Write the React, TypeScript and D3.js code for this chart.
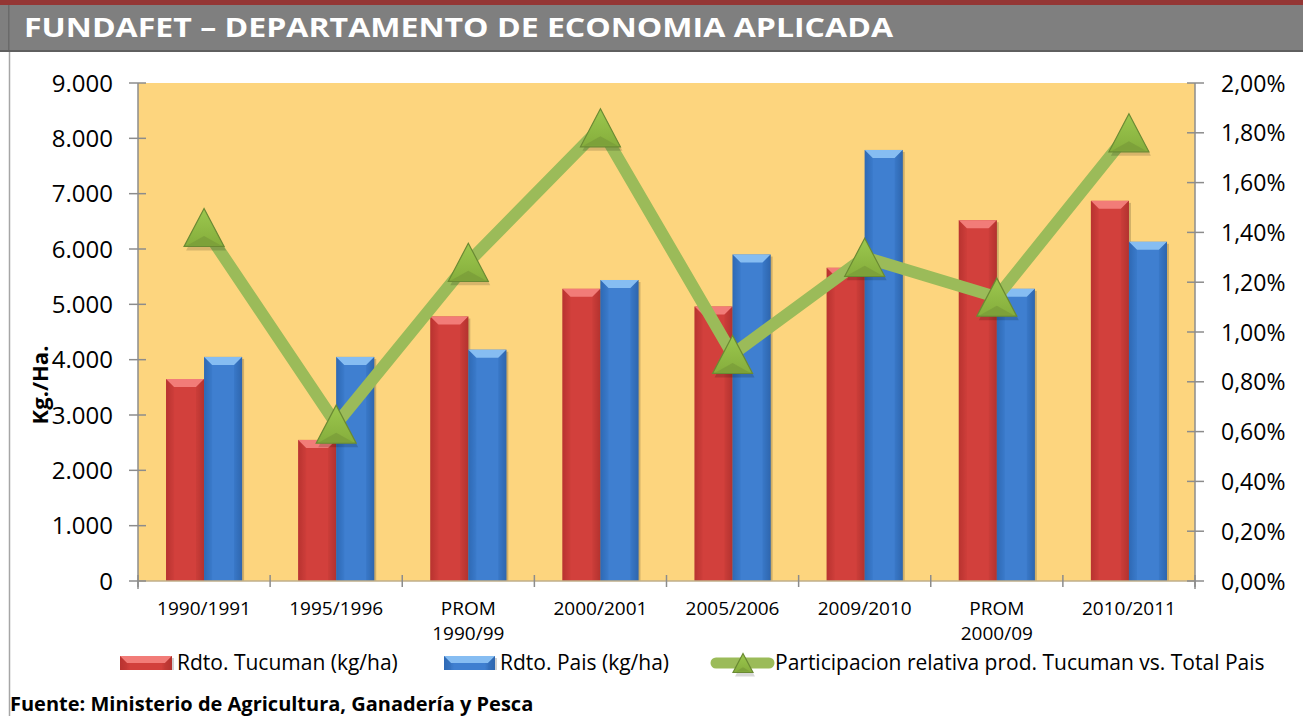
import React from "react";
import * as d3 from "d3";

const categories = ["1990/1991", "1995/1996", "PROM\n1990/99", "2000/2001", "2005/2006", "2009/2010", "PROM\n2000/09", "2010/2011"];
const tucuman = [3650, 2550, 4780, 5280, 4960, 5660, 6520, 6870];
const pais = [4050, 4050, 4180, 5440, 5900, 7790, 5280, 6130];
const participacion = [1.42, 0.63, 1.28, 1.82, 0.91, 1.30, 1.14, 1.80];
const leftTicks = [0, 1000, 2000, 3000, 4000, 5000, 6000, 7000, 8000, 9000];
const rightTicks = [0, 0.2, 0.4, 0.6, 0.8, 1.0, 1.2, 1.4, 1.6, 1.8, 2.0];
const seriesNames = ["Rdto. Tucuman (kg/ha)", "Rdto. Pais (kg/ha)", "Participacion relativa prod. Tucuman vs. Total Pais"];

const FONT = "'Open Sans', 'DejaVu Sans', sans-serif";
const W = 1303, H = 716;
const L = 138, R = 1195, T = 83, B = 581;

const fmtLeft = (v: number) => v === 0 ? "0" : d3.format(",")(v).replace(/,/g, ".");
const fmtRight = (v: number) => v.toFixed(2).replace(".", ",") + "%";

function Bar({ x, y, w, h, kind }: { x: number; y: number; w: number; h: number; kind: string }) {
  const bev = Math.min(8, h / 2);
  const id = kind === "red" ? "gRed" : "gBlue";
  const top = kind === "red" ? "#f27c78" : "#86bdf2";
  const topDark = kind === "red" ? "#c23a36" : "#3270bd";
  return (
    <g>
      <rect x={x + 2} y={y + 2} width={w} height={h - 2} fill="rgba(0,0,0,0.18)" />
      <rect x={x} y={y} width={w} height={h} fill={`url(#${id})`} />
      <polygon points={`${x},${y} ${x + w},${y} ${x + w - bev},${y + bev} ${x + bev},${y + bev}`} fill={top} />
      <polygon points={`${x},${y} ${x + bev},${y + bev} ${x + bev},${y + h} ${x},${y + h}`} fill={topDark} opacity={0.35} />
      <polygon points={`${x + w},${y} ${x + w - bev},${y + bev} ${x + w - bev},${y + h} ${x + w},${y + h}`} fill={topDark} opacity={0.5} />
    </g>
  );
}

function Marker({ cx, cy, s = 1 }: { cx: number; cy: number; s?: number }) {
  const hw = 20 * s, hh = 19 * s;
  return (
    <g>
      <polygon points={`${cx + 2},${cy - hh + 4} ${cx - hw + 2},${cy + hh + 4} ${cx + hw + 2},${cy + hh + 4}`} fill="rgba(0,0,0,0.15)" />
      <polygon points={`${cx},${cy - hh} ${cx - hw},${cy + hh} ${cx + hw},${cy + hh}`} fill="url(#gGreen)" stroke="#6a8a33" strokeWidth={1.2} />
      <polygon points={`${cx - hw + 3},${cy + hh - 1} ${cx},${cy + hh * 0.45} ${cx + hw - 3},${cy + hh - 1}`} fill="#7a9e3a" opacity={0.8} />
    </g>
  );
}

export default function App() {
  const x0 = d3.scaleBand<string>().domain(categories).range([L, R]).paddingInner(0).paddingOuter(0);
  const x1 = d3.scaleBand<string>().domain(["t", "p"]).range([0, x0.bandwidth()]).paddingInner(0).paddingOuter(0.737);
  const yL = d3.scaleLinear().domain([0, 9000]).range([B, T]);
  const yR = d3.scaleLinear().domain([0, 2]).range([B, T]);
  const line = d3.line<number>().x((_, i) => x0(categories[i])! + x0.bandwidth() / 2).y((d) => yR(d));
  const bw = x1.bandwidth();

  return (
    <svg width={W} height={H} style={{ position: "absolute", left: 0, top: 0 }} fontFamily={FONT}>
      <defs>
        <linearGradient id="gRed" x1="0" x2="1" y1="0" y2="0">
          <stop offset="0" stopColor="#b3302d" />
          <stop offset="0.2" stopColor="#d2403c" />
          <stop offset="0.8" stopColor="#d2403c" />
          <stop offset="1" stopColor="#a52b28" />
        </linearGradient>
        <linearGradient id="gBlue" x1="0" x2="1" y1="0" y2="0">
          <stop offset="0" stopColor="#2e66b0" />
          <stop offset="0.2" stopColor="#3f7fd0" />
          <stop offset="0.8" stopColor="#3f7fd0" />
          <stop offset="1" stopColor="#2b5c9e" />
        </linearGradient>
        <linearGradient id="gGreen" x1="0" x2="0" y1="0" y2="1">
          <stop offset="0" stopColor="#9cc84e" />
          <stop offset="1" stopColor="#85ad3c" />
        </linearGradient>
      </defs>
      <rect x={0} y={0} width={W} height={H} fill="#ffffff" />
      {/* header */}
      <rect x={0} y={0} width={W} height={5} fill="#943634" />
      <rect x={0} y={5} width={W} height={45} fill="#7f7f7f" />
      <rect x={8} y={5} width={1.5} height={45} fill="#6a6a6a" />
      <rect x={0} y={50} width={W} height={2} fill="#5f5f5f" />
      <text x={24} y={37} fill="#ffffff" fontSize={26} fontWeight="bold" textLength={869} lengthAdjust="spacingAndGlyphs">FUNDAFET – DEPARTAMENTO DE ECONOMIA APLICADA</text>
      <line x1={9.5} x2={9.5} y1={52} y2={H} stroke="#a6a6a6" strokeWidth={1.5} />

      {/* plot area */}
      <rect x={L} y={T} width={R - L} height={B - T} fill="#fdd57e" />

      {/* bars */}
      {categories.map((c, i) => (
        <g key={c}>
          <Bar x={x0(c)! + x1("t")!} y={yL(tucuman[i])} w={bw} h={B - yL(tucuman[i])} kind="red" />
          <Bar x={x0(c)! + x1("p")!} y={yL(pais[i])} w={bw} h={B - yL(pais[i])} kind="blue" />
        </g>
      ))}

      {/* axes */}
      <line x1={L} x2={L} y1={T} y2={B + 8} stroke="#8c8c8c" strokeWidth={1.5} />
      <line x1={R} x2={R} y1={T} y2={B + 8} stroke="#8c8c8c" strokeWidth={1.5} />
      <line x1={L} x2={R} y1={B} y2={B} stroke="#bfae8a" strokeWidth={1.5} />
      {leftTicks.map((t) => (
        <g key={t}>
          <line x1={L - 9} x2={L + 8} y1={yL(t)} y2={yL(t)} stroke="#8c8c8c" strokeWidth={1.5} />
          <text x={113} y={yL(t) + 8.5} textAnchor="end" fontSize={24} fill="#000">{fmtLeft(t)}</text>
        </g>
      ))}
      {rightTicks.map((t) => (
        <g key={t}>
          <line x1={R - 8} x2={R + 9} y1={yR(t)} y2={yR(t)} stroke="#8c8c8c" strokeWidth={1.5} />
          <text x={1221} y={yR(t) + 8.5} textAnchor="start" fontSize={23} fill="#000">{fmtRight(t)}</text>
        </g>
      ))}
      {d3.range(categories.length + 1).map((i) => {
        const xx = L + i * x0.step();
        return <line key={i} x1={xx} x2={xx} y1={B - 6} y2={B + 6} stroke="#8c8c8c" strokeWidth={1.5} />;
      })}
      {categories.map((c) => (
        <text key={c} x={x0(c)! + x0.bandwidth() / 2} y={615} textAnchor="middle" fontSize={19} fill="#000">
          {c.split("\n").map((s, j) => (
            <tspan key={j} x={x0(c)! + x0.bandwidth() / 2} dy={j === 0 ? 0 : 25}>{s}</tspan>
          ))}
        </text>
      ))}
      <text transform="translate(48,385) rotate(-90)" textAnchor="middle" fontSize={22} fontWeight="bold" fill="#000">Kg./Ha.</text>

      {/* line */}
      <path d={line(participacion)!} fill="none" stroke="#9bbb59" strokeWidth={12} strokeLinejoin="miter" />
      {participacion.map((v, i) => (
        <Marker key={i} cx={x0(categories[i])! + x0.bandwidth() / 2} cy={yR(v)} />
      ))}

      {/* legend */}
      <Bar x={120} y={656} w={52} h={14} kind="red" />
      <text x={177} y={670} fontSize={21} fill="#000">{seriesNames[0]}</text>
      <Bar x={444} y={656} w={51} h={14} kind="blue" />
      <text x={500} y={670} fontSize={21} fill="#000">{seriesNames[1]}</text>
      <line x1={716} x2={769} y1={663} y2={663} stroke="#9bbb59" strokeWidth={11} strokeLinecap="round" />
      <Marker cx={743} cy={663} s={0.5} />
      <text x={775} y={670} fontSize={21} fill="#000">{seriesNames[2]}</text>

      <text x={10} y={711} fontSize={20} fontWeight="bold" fill="#000">Fuente: Ministerio de Agricultura, Ganadería y Pesca</text>
    </svg>
  );
}
